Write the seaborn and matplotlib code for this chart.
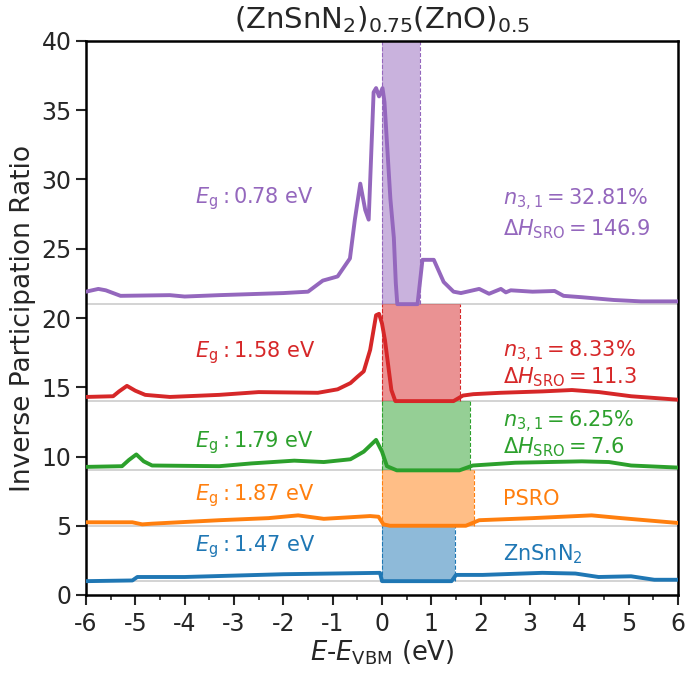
import seaborn as sns
import matplotlib.pyplot as plt

# IPR curves (already offset per structure)
x_zsn = [-6.0, -5.06, -4.96, -4.0, -2.0, -0.04, 0.0, 1.41, 1.5, 2.04, 3.25, 3.92, 4.39, 5.05, 5.52, 6.0]
y_zsn = [1.0, 1.05, 1.3, 1.3, 1.5, 1.6, 1.0, 1.0, 1.45, 1.45, 1.6, 1.55, 1.3, 1.35, 1.1, 1.1]

x_psro = [-6.0, -5.06, -4.86, -4.66, -3.3, -2.3, -1.7, -1.18, -0.24, -0.07, 0.03, 0.16, 0.43, 1.7, 1.97,
          3.05, 4.25, 4.85, 6.0]
y_psro = [5.25, 5.25, 5.1, 5.15, 5.4, 5.55, 5.75, 5.5, 5.7, 5.65, 5.1, 5.0, 5.0, 5.0, 5.4,
          5.55, 5.75, 5.55, 5.2]

x_g = [-6.0, -5.27, -5.13, -4.98, -4.83, -4.66, -3.3, -2.65, -1.78, -1.18, -0.64, -0.37, -0.12, 0.0, 0.1,
       0.3, 1.57, 1.84, 2.7, 4.05, 4.6, 5.05, 6.0]
y_g = [9.25, 9.3, 9.75, 10.15, 9.65, 9.35, 9.3, 9.5, 9.7, 9.6, 9.8, 10.35, 11.2, 10.35, 9.3,
       9.0, 9.0, 9.35, 9.55, 9.65, 9.6, 9.35, 9.2]

x_r = [-6.0, -5.45, -5.33, -5.17, -5.0, -4.8, -4.3, -3.3, -2.5, -1.3, -0.9, -0.64, -0.5, -0.37, -0.24,
       -0.12, -0.06, 0.0, 0.06, 0.19, 0.27, 1.45, 1.64, 1.85, 2.4, 3.25, 3.85, 4.4, 5.05, 6.0]
y_r = [14.3, 14.35, 14.7, 15.1, 14.75, 14.45, 14.3, 14.45, 14.65, 14.6, 14.85, 15.3, 15.75, 16.15, 17.7,
       20.2, 20.3, 19.6, 18.4, 14.8, 14.0, 14.0, 14.4, 14.5, 14.6, 14.7, 14.8, 14.65, 14.35, 14.1]

x_p = [-6.0, -5.75, -5.6, -5.3, -4.3, -4.0, -3.3, -2.0, -1.5, -1.2, -0.9, -0.65, -0.55, -0.44, -0.34,
       -0.27, -0.17, -0.12, -0.06, 0.01, 0.05, 0.17, 0.24, 0.28, 0.31, 0.72, 0.82, 1.05, 1.25, 1.45,
       1.6, 1.97, 2.17, 2.41, 2.51, 2.61, 3.05, 3.5, 3.68, 4.05, 4.7, 5.25, 6.0]
y_p = [21.9, 22.1, 22.0, 21.6, 21.65, 21.55, 21.65, 21.8, 21.9, 22.7, 23.0, 24.3, 27.1, 29.7, 27.8,
       27.1, 36.3, 36.6, 36.0, 36.6, 35.6, 28.6, 25.8, 22.5, 21.0, 21.0, 24.2, 24.2, 22.6, 21.9,
       21.8, 22.1, 21.75, 22.1, 21.85, 22.0, 21.9, 21.95, 21.6, 21.5, 21.3, 21.2, 21.2]

colors = ['#1f77b4', '#ff7f0e', '#2ca02c', '#d62728', '#9467bd']
baselines = [1, 5, 9, 14, 21]
tops = [5, 9, 14, 21, 40]
gaps = [1.47, 1.87, 1.79, 1.58, 0.78]
gap_text_y = [3.5, 7.2, 11.0, 17.5, 28.6]
right_lines = [['ZnSnN$_2$'], ['PSRO'],
               [r'$n_{3,1} = 6.25\%$', r'$\Delta H_\mathrm{SRO} = 7.6$'],
               [r'$n_{3,1} = 8.33\%$', r'$\Delta H_\mathrm{SRO} = 11.3$'],
               [r'$n_{3,1} = 32.81\%$', r'$\Delta H_\mathrm{SRO} = 146.9$']]
right_y = [[2.95], [6.9], [12.5, 10.65], [17.55, 15.75], [28.5, 26.4]]

sns.set_style('ticks')
plt.rcParams['axes.unicode_minus'] = False

fig = plt.figure(figsize=(6.85, 6.73), dpi=100)
ax = fig.add_axes([86 / 685, 1 - 595 / 673, 592 / 685, 554 / 673])

curves = [(x_zsn, y_zsn), (x_psro, y_psro), (x_g, y_g), (x_r, y_r), (x_p, y_p)]
for i, (xs, ys) in enumerate(curves):
    c = colors[i]
    ax.axhline(baselines[i], color='#cccccc', lw=1.2, zorder=1)
    ax.fill_between([0, gaps[i]], baselines[i], tops[i], color=c, alpha=0.5, lw=0, zorder=2)
    ax.vlines([0, gaps[i]], baselines[i], tops[i], colors=c, linestyles='--', lw=0.8, zorder=2)
    sns.lineplot(x=xs, y=ys, color=c, lw=2.8, ax=ax, sort=False, estimator=None, zorder=3)
    ax.text(-3.8, gap_text_y[i], r'$E_\mathrm{g}: %.2f$ eV' % gaps[i], color=c,
            fontsize=15, ha='left', va='center')
    for line, yy in zip(right_lines[i], right_y[i]):
        ax.text(2.45, yy, line, color=c, fontsize=15, ha='left', va='center')

ax.set_xlim(-6, 6)
ax.set_ylim(0, 40)
ax.set_xticks(range(-6, 7))
ax.set_xticks([v + 0.5 for v in range(-6, 6)], minor=True)
ax.set_yticks(range(0, 41, 5))
ax.tick_params(axis='both', which='major', labelsize=17, length=7, width=1.5)
ax.tick_params(axis='x', which='major', pad=5)
ax.tick_params(axis='x', which='minor', length=3.5, width=1.2)
for s in ax.spines.values():
    s.set_linewidth(1.8)
    s.set_color('black')

ax.set_xlabel(r'$E$-$E_\mathrm{VBM}$ (eV)', fontsize=18.5, labelpad=2)
ax.set_ylabel('Inverse Participation Ratio', fontsize=19, labelpad=4)
ax.set_title(r'(ZnSnN$_2$)$_{0.75}$(ZnO)$_{0.5}$', fontsize=21, pad=9)

fig.savefig('out.png', dpi=100)
